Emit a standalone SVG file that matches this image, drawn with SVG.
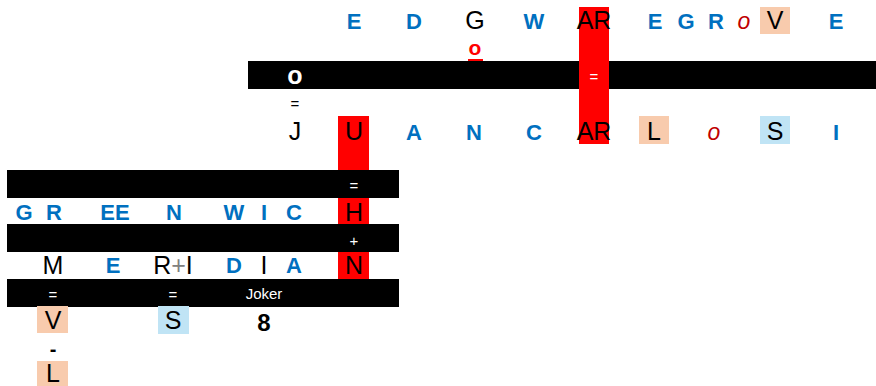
<svg xmlns="http://www.w3.org/2000/svg" width="876" height="386" viewBox="0 0 876 386">
<style>
text{font-family:"Liberation Sans",Arial,sans-serif;text-anchor:middle}
.b{fill:#0070C0;font-weight:bold;font-size:22px}
.k{fill:#000;font-size:25px}
.w{fill:#fff;font-size:15px}
.ro{fill:#C00000;font-style:italic;font-size:23px}
.bar{fill:#000}
.red{fill:#FF0000}
.pe{fill:#F8CBAD}
.lb{fill:#C0E4F5}
</style>
<rect width="876" height="386" fill="#fff"/>
<g id="top">
<rect class="bar" x="248" y="61" width="628" height="28"/>
<rect class="red" x="579" y="7" width="30" height="137"/>
<rect class="pe" x="760" y="7" width="30" height="27"/>
<rect class="pe" x="639" y="116" width="30" height="28"/>
<rect class="lb" x="760" y="116" width="30" height="28"/>
<text class="b" x="354" y="29">E</text>
<text class="b" x="414" y="29">D</text>
<text class="k" x="475" y="29">G</text>
<text class="b" x="534" y="29">W</text>
<text class="k" x="594" y="29">AR</text>
<text class="b" x="655" y="29">E</text>
<text class="b" x="686" y="29">G</text>
<text class="b" x="716" y="29">R</text>
<text class="ro" x="744" y="29">o</text>
<text class="k" x="775" y="29">V</text>
<text class="b" x="836" y="29">E</text>
<text x="475" y="55" style="fill:#FF0000;font-weight:bold;font-size:21px">o</text>
<rect class="red" x="468" y="59" width="15" height="2"/>
<text x="295" y="84" style="fill:#fff;font-weight:bold;font-size:25px">o</text>
<text class="w" x="594" y="82">=</text>
<text x="295" y="109" style="fill:#000;font-size:15px">=</text>
<rect class="red" x="338" y="116" width="31" height="163"/>
<text class="k" x="295" y="140">J</text>
<text class="k" x="354" y="140">U</text>
<text class="b" x="414" y="140">A</text>
<text class="b" x="474" y="140">N</text>
<text class="b" x="534" y="140">C</text>
<text class="k" x="594" y="140">AR</text>
<text class="k" x="654" y="140">L</text>
<text class="ro" x="714" y="140">o</text>
<text class="k" x="775" y="140">S</text>
<text class="b" x="836" y="140">I</text>
</g>
<g id="left">
<rect class="bar" x="7" y="170" width="392" height="28"/>
<rect class="bar" x="7" y="224" width="392" height="28"/>
<rect class="bar" x="7" y="279" width="392" height="28"/>
<text class="w" x="354" y="191">=</text>
<text class="w" x="354" y="246">+</text>
<text class="b" x="24" y="220">G</text>
<text class="b" x="54" y="220">R</text>
<text class="b" x="115" y="220">EE</text>
<text class="b" x="174" y="220">N</text>
<text class="b" x="234" y="220">W</text>
<text class="b" x="264" y="220">I</text>
<text class="b" x="294" y="220">C</text>
<text class="k" x="354" y="221">H</text>
<text class="k" x="53" y="274">M</text>
<text class="b" x="113" y="273">E</text>
<text class="k" x="173" y="274">R<tspan style="fill:#808080">+</tspan>I</text>
<text class="b" x="234" y="273">D</text>
<text class="k" x="264" y="274">I</text>
<text class="b" x="294" y="273">A</text>
<text class="k" x="354" y="274">N</text>
<text class="w" x="53" y="300">=</text>
<text class="w" x="173" y="300">=</text>
<text x="264" y="299" style="fill:#fff;font-size:15px">Joker</text>
<rect class="pe" x="37" y="306" width="31" height="27"/>
<rect class="lb" x="158" y="306" width="31" height="28"/>
<text class="k" x="53" y="329">V</text>
<text class="k" x="173" y="329">S</text>
<text x="264" y="331" style="fill:#000;font-weight:bold;font-size:24px">8</text>
<text x="53" y="356" style="fill:#000;font-size:20px;font-weight:bold">-</text>
<rect class="pe" x="37" y="361" width="31" height="25"/>
<text class="k" x="53" y="382">L</text>
</g>
</svg>
